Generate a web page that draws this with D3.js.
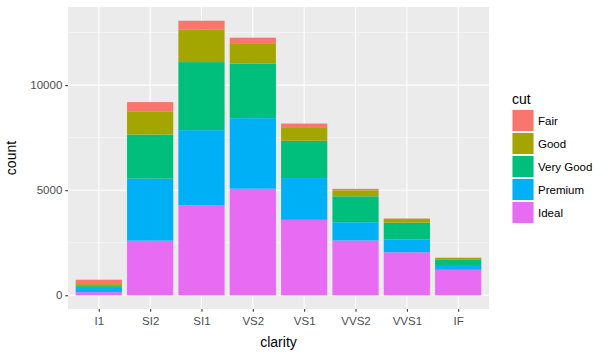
<!DOCTYPE html>
<html><head><meta charset="utf-8">
<script src="https://cdn.jsdelivr.net/npm/d3@7"></script>
<style>body{margin:0;background:#fff;}text{font-family:"Liberation Sans",Arial,sans-serif;}</style>
</head><body><svg id="c" width="609" height="356"></svg>
<script>
const clarity = ["I1","SI2","SI1","VS2","VS1","VVS2","VVS1","IF"];
const cuts = ["Fair","Good","Very Good","Premium","Ideal"];
const fair     = [210, 466, 408, 261, 170, 69, 17, 9];
const good     = [96, 1081, 1560, 978, 648, 286, 186, 71];
const veryGood = [84, 2100, 3240, 2591, 1775, 1235, 789, 268];
const premium  = [205, 2949, 3575, 3357, 1989, 870, 616, 230];
const ideal    = [146, 2598, 4282, 5071, 3589, 2606, 2047, 1212];
const colors = ["#F8766D","#A3A500","#00BF7D","#00B0F6","#E76BF3"];
const yTicks = [0, 5000, 10000];
const yMinor = [2500, 7500, 12500];

const seriesVals = {"Fair":fair,"Good":good,"Very Good":veryGood,"Premium":premium,"Ideal":ideal};
const rows = clarity.map((c,i)=>{const r={clarity:c}; cuts.forEach(k=>r[k]=seriesVals[k][i]); return r;});
// stack: Ideal bottom, Fair top
const stackKeys = cuts.slice().reverse();
const stacked = d3.stack().keys(stackKeys)(rows);
const maxV = d3.max(rows, r=>d3.sum(cuts, k=>r[k]));

const svg = d3.select("#c");
const L=68, R=489, T=7, B=309;
const unit = (R-L)/(clarity.length-1+1.2);
const x = d3.scalePoint().domain(clarity).range([L+0.6*unit, R-0.6*unit]);
const y = d3.scaleLinear().domain([-0.05*maxV, maxV*1.05]).range([B, T]);
const color = d3.scaleOrdinal().domain(cuts).range(colors);

svg.append("rect").attr("x",L).attr("y",T).attr("width",R-L).attr("height",B-T).attr("fill","#EBEBEB");
const g = svg.append("g");
g.selectAll(".mn").data(yMinor).join("line").attr("x1",L).attr("x2",R)
  .attr("y1",d=>y(d)).attr("y2",d=>y(d)).attr("stroke","#fff").attr("stroke-width",0.53);
g.selectAll(".mj").data(yTicks).join("line").attr("x1",L).attr("x2",R)
  .attr("y1",d=>y(d)).attr("y2",d=>y(d)).attr("stroke","#fff").attr("stroke-width",1.07);
g.selectAll(".vx").data(clarity).join("line").attr("y1",T).attr("y2",B)
  .attr("x1",d=>x(d)).attr("x2",d=>x(d)).attr("stroke","#fff").attr("stroke-width",1.07);

const bw = unit*0.9;
svg.append("g").selectAll("g").data(stacked).join("g").attr("fill",d=>color(d.key))
  .selectAll("rect").data(d=>d).join("rect")
  .attr("x",d=>x(d.data.clarity)-bw/2).attr("width",bw)
  .attr("y",d=>y(d[1])).attr("height",d=>y(d[0])-y(d[1]));

// axes
const ya = svg.append("g").attr("transform",`translate(${L},0)`)
  .call(d3.axisLeft(y).tickValues(yTicks).tickFormat(d3.format("d")).tickSize(2.7).tickPadding(3));
const xa = svg.append("g").attr("transform",`translate(0,${B})`)
  .call(d3.axisBottom(x).tickSize(2.7).tickPadding(5));
[ya,xa].forEach(a=>{a.select(".domain").remove();
  a.selectAll(".tick line").attr("stroke","#333333").attr("stroke-width",1.07);
  a.selectAll(".tick text").attr("fill","#4D4D4D").style("font-size","11.5px").style("font-family","'Liberation Sans',Arial,sans-serif");});

svg.append("text").attr("x",(L+R)/2).attr("y",347).attr("text-anchor","middle")
  .style("font-size","14px").attr("fill","#000").text("clarity");
svg.append("text").attr("transform",`translate(16,${(T+B)/2}) rotate(-90)`).attr("text-anchor","middle")
  .style("font-size","14px").attr("fill","#000").text("count");

// legend
const lg = svg.append("g");
lg.append("text").attr("x",512).attr("y",104).style("font-size","14px").attr("fill","#000").text("cut");
const ks = lg.selectAll("g").data(cuts).join("g").attr("transform",(d,i)=>`translate(512,${109.5+i*23})`);
ks.append("rect").attr("width",22).attr("height",22).attr("fill","#F2F2F2");
ks.append("rect").attr("x",0.5).attr("y",0.5).attr("width",21).attr("height",21).attr("fill",d=>color(d));
ks.append("text").attr("x",26).attr("y",15.5).style("font-size","11.5px").attr("fill","#000").text(d=>d);
</script></body></html>
